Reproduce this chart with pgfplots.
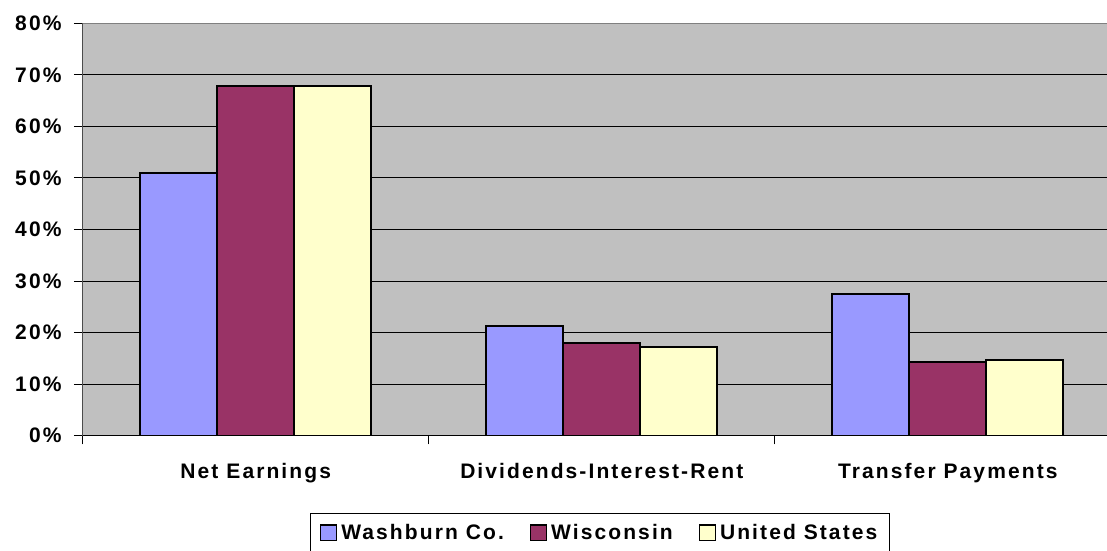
\documentclass[border=0pt]{standalone}
\usepackage{fontspec}
\setmainfont{Liberation Sans}[LetterSpace=10]
\usepackage{pgfplots}
\pgfplotsset{compat=1.18}
\definecolor{cBlue}{HTML}{9999FF}
\definecolor{cRed}{HTML}{993366}
\definecolor{cYel}{HTML}{FFFFCC}
\definecolor{cGray}{HTML}{C0C0C0}
\pgfplotsset{sq legend/.style={legend image code/.code={\draw[##1,line width=1.3bp] (0bp,-7.5bp) rectangle (16bp,8bp);}}}
\begin{document}
\begin{tikzpicture}
\useasboundingbox (-82.7bp,-115.3bp) rectangle (1024.3bp,435.7bp);
\begin{axis}[
  at={(0,0)}, anchor=south west,
  scale only axis,
  width=1024.3bp, height=412.4bp,
  xmin=-0.5, xmax=2.46,
  ymin=0, ymax=80,
  ybar=0pt, bar width=77bp,
  axis background/.style={fill=cGray},
  axis x line*=bottom, axis y line*=left,
  x axis line style={black, line width=1bp, -},
  y axis line style={black!70, line width=1.5bp, -},
  xtick={0,1,2},
  xticklabels={Net Earnings, Dividends-Interest-Rent, Transfer Payments},
  minor xtick={-0.5,0.5,1.5},
  major x tick style={draw=none},
  minor x tick style={black, line width=1bp},
  ytick={0,10,...,80},
  y tick style={black, line width=1bp},
  tick align=outside,
  major tick length=8.7bp, minor tick length=8.7bp,
  ymajorgrids,
  grid style={black, line width=1bp},
  yticklabel={\pgfmathprintnumber[assume math mode=true]{\tick}\%},
  font=\fontsize{21bp}{25bp}\selectfont\bfseries,
  ticklabel style={font=\fontsize{21bp}{25bp}\selectfont\bfseries},
  yticklabel style={xshift=-9bp},
  xticklabel style={yshift=-15.5bp},
  legend columns=3,
  legend style={at={(axis description cs:0.5047,-0.188)}, anchor=north,
    draw=black, line width=1bp, fill=white, inner ysep=9bp, inner xsep=10bp,
    font=\fontsize{21bp}{25bp}\selectfont\bfseries,
    /tikz/every even column/.append style={column sep=24bp},
    /tikz/every odd column/.append style={column sep=2bp}},
]
\addplot[fill=cBlue, draw=black, line width=2bp, sq legend] coordinates {(0,51.0) (1,21.3) (2,27.5)};
\addplot[fill=cRed, draw=black, line width=2bp, sq legend] coordinates {(0,67.8) (1,18.0) (2,14.3)};
\addplot[fill=cYel, draw=black, line width=2bp, sq legend] coordinates {(0,67.8) (1,17.3) (2,14.7)};
\legend{Washburn Co., Wisconsin, United States}
\draw[gray, line width=1.5bp] (rel axis cs:0,1) -- (rel axis cs:1,1);
\end{axis}
\end{tikzpicture}
\end{document}
